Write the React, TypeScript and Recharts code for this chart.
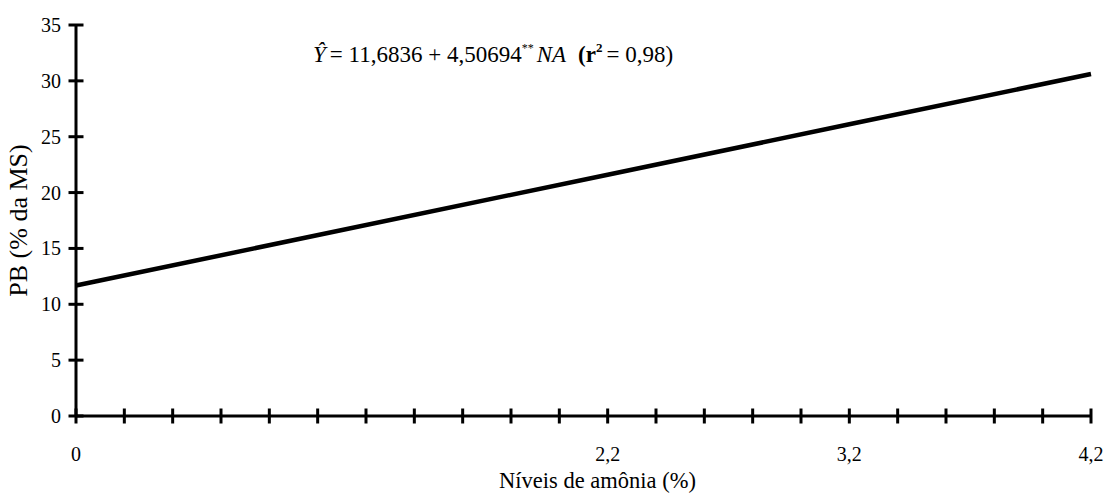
import React from 'react';
import { LineChart, Line, XAxis, YAxis, Customized } from 'recharts';

// Ammonia levels (%) and fitted crude protein (PB, % of DM)
const levels = [0, 2.2, 3.2, 4.2];
const pbValues = [11.68, 21.6, 26.11, 30.61];

// Axis ticks
const xTicks = [0, 0.2, 0.4, 0.6, 0.8, 1, 1.2, 1.4, 1.6, 1.8, 2, 2.2, 2.4, 2.6, 2.8, 3, 3.2, 3.4, 3.6, 3.8, 4, 4.2];
const xTickLabels = ['0', '2,2', '3,2', '4,2'];
const xLabeledValues = [0, 2.2, 3.2, 4.2];
const yTicks = [0, 5, 10, 15, 20, 25, 30, 35];

const xTitle = 'Níveis de amônia (%)';
const yTitle = 'PB (% da MS)';

const data = levels.map((x, i) => ({ x, y: pbValues[i] }));

const FONT = '"Liberation Serif", "Times New Roman", serif';

const XTick = (props: any) => {
  const { x, y, payload } = props;
  const idx = xLabeledValues.findIndex((v) => Math.abs(v - payload.value) < 1e-6);
  return (
    <g>
      <line x1={x} x2={x} y1={y - 7.5} y2={y + 7.5} stroke="#000" strokeWidth={3} />
      {idx >= 0 && (
        <text x={x} y={y + 45} textAnchor="middle" fontFamily={FONT} fontSize={20} fill="#000">
          {xTickLabels[idx]}
        </text>
      )}
    </g>
  );
};

const YTick = (props: any) => {
  const { x, y, payload } = props;
  return (
    <g>
      <line x1={x - 7.5} x2={x + 7.5} y1={y} y2={y} stroke="#000" strokeWidth={3} />
      <text x={x - 15} y={y + 7} textAnchor="end" fontFamily={FONT} fontSize={20} fill="#000">
        {payload.value}
      </text>
    </g>
  );
};

const Equation = () => (
  <text x={313} y={62} fontFamily={FONT} fontSize={23} fill="#000">
    <tspan fontStyle="italic">Ŷ</tspan>
    <tspan dx={4}>= 11,6836 + 4,50694</tspan>
    <tspan fontSize={12} dy={-10}>**</tspan>
    <tspan dy={10} dx={3} fontStyle="italic">NA</tspan>
    <tspan dx={12} fontWeight="bold">(r</tspan>
    <tspan fontWeight="bold" fontSize={13} dy={-10}>2</tspan>
    <tspan dy={10} dx={4}>= 0,98)</tspan>
  </text>
);

const YTitle = (props: any) => {
  const { viewBox } = props;
  const cx = 18;
  const cy = viewBox.y + viewBox.height / 2;
  return (
    <text
      x={cx}
      y={cy}
      transform={`rotate(-90, ${cx}, ${cy})`}
      textAnchor="middle"
      dominantBaseline="central"
      fontFamily={FONT}
      fontSize={26}
      fill="#000"
    >
      {yTitle}
    </text>
  );
};

const XTitle = (props: any) => {
  const { viewBox } = props;
  return (
    <text
      x={viewBox.x + viewBox.width / 2 + 14}
      y={488}
      textAnchor="middle"
      fontFamily={FONT}
      fontSize={22.5}
      fill="#000"
    >
      {xTitle}
    </text>
  );
};

export default function App() {
  return (
    <div style={{ position: 'absolute', left: 0, top: 0, width: 1107, height: 495, background: '#fff' }}>
      <LineChart width={1107} height={495} data={data} margin={{ top: 25, right: 16, bottom: 0, left: 0 }}>
        <XAxis
          dataKey="x"
          type="number"
          domain={[0, 4.2]}
          ticks={xTicks}
          interval={0}
          height={79}
          tickSize={0}
          tickMargin={0}
          tickLine={false}
          axisLine={{ stroke: '#000', strokeWidth: 3 }}
          tick={<XTick />}
          label={<XTitle />}
        />
        <YAxis
          type="number"
          domain={[0, 35]}
          ticks={yTicks}
          interval={0}
          width={76}
          tickSize={0}
          tickMargin={0}
          tickLine={false}
          axisLine={{ stroke: '#000', strokeWidth: 3 }}
          tick={<YTick />}
          label={<YTitle />}
        />
        <Line
          type="linear"
          dataKey="y"
          stroke="#000"
          strokeWidth={4.5}
          dot={false}
          isAnimationActive={false}
        />
        <Customized component={Equation} />
      </LineChart>
    </div>
  );
}
